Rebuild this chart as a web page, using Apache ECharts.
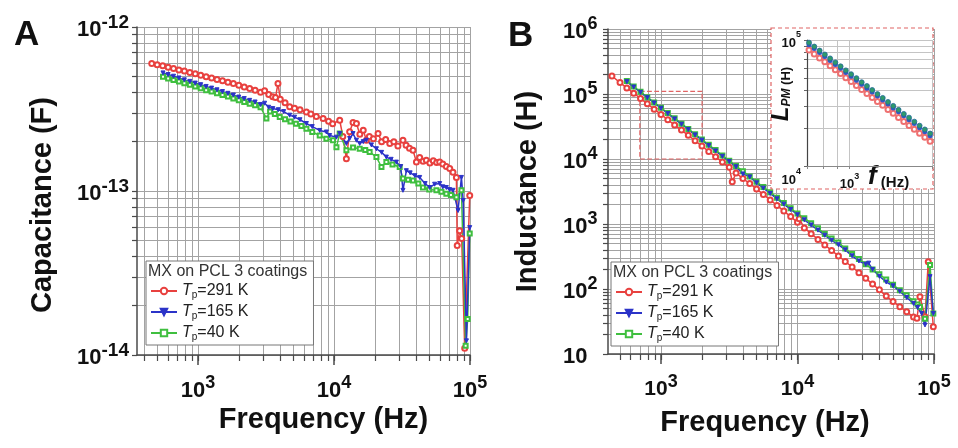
<!DOCTYPE html>
<html><head><meta charset="utf-8">
<script src="https://cdn.jsdelivr.net/npm/echarts@6.0.0/dist/echarts.min.js"></script>
<style>html,body{margin:0;padding:0;background:#fff}#c{width:958px;height:448px}</style>
</head><body><div id="c"></div>
<script>
// ---------- DATA (frequency in Hz, capacitance in pF = 1e-12 F, inductance in H) ----------
const capRed291 = [[457,0.600],[501,0.589],[550,0.581],[603,0.568],[661,0.558],[724,0.547],[794,0.540],[871,0.527],[955,0.519],[1047,0.508],[1148,0.497],[1259,0.489],[1380,0.479],[1514,0.470],[1660,0.460],[1820,0.452],[1995,0.442],[2188,0.431],[2399,0.421],[2630,0.411],[2884,0.400],[3090,0.409],[3311,0.387],[3548,0.376],[3715,0.372],[3873,0.453],[4027,0.363],[4365,0.345],[4721,0.326],[5129,0.320],[5623,0.313],[6266,0.303],[6761,0.295],[7413,0.285],[8318,0.277],[9120,0.266],[9772,0.257],[11015,0.270],[11614,0.215],[12331,0.157],[13032,0.230],[13804,0.262],[14622,0.258],[15488,0.222],[16406,0.235],[17298,0.204],[18197,0.215],[19498,0.208],[21086,0.224],[22387,0.200],[23988,0.206],[25704,0.195],[27542,0.200],[29512,0.188],[32137,0.204],[33884,0.190],[35892,0.182],[38107,0.177],[40365,0.150],[42658,0.160],[45186,0.152],[47753,0.154],[50699,0.148],[53703,0.153],[56885,0.149],[59841,0.150],[63096,0.146],[66988,0.141],[70958,0.137],[74989,0.130],[79433,0.121],[80538,0.0465],[83946,0.0573],[86896,0.0513],[91411,0.0110],[99540,0.0938]];
const capBlue165 = [[553,0.525],[603,0.513],[661,0.501],[724,0.489],[794,0.476],[871,0.466],[955,0.455],[1047,0.445],[1148,0.434],[1259,0.424],[1380,0.414],[1514,0.404],[1660,0.394],[1820,0.385],[1995,0.374],[2188,0.366],[2399,0.357],[2630,0.349],[2884,0.337],[3090,0.343],[3311,0.324],[3548,0.318],[3890,0.313],[4266,0.305],[4721,0.290],[5129,0.282],[5623,0.272],[6266,0.258],[6918,0.247],[7852,0.234],[8790,0.229],[9290,0.218],[10423,0.213],[11015,0.224],[12331,0.195],[13032,0.209],[13804,0.224],[14622,0.204],[15453,0.195],[16406,0.200],[17298,0.204],[18836,0.191],[20512,0.181],[22387,0.172],[24266,0.161],[26303,0.156],[28774,0.150],[30903,0.141],[32137,0.101],[34041,0.133],[36308,0.129],[39355,0.124],[42658,0.121],[46774,0.111],[50582,0.105],[54954,0.110],[59841,0.111],[63096,0.106],[66988,0.105],[70795,0.102],[74989,0.101],[81658,0.076],[86497,0.121],[89125,0.0875],[94189,0.0122],[99540,0.0598]];
const capGreen40 = [[553,0.497],[603,0.486],[661,0.475],[724,0.465],[794,0.454],[871,0.444],[955,0.433],[1047,0.423],[1148,0.412],[1259,0.404],[1380,0.394],[1514,0.385],[1660,0.377],[1820,0.367],[1995,0.358],[2188,0.349],[2399,0.340],[2630,0.333],[2884,0.324],[3184,0.277],[3388,0.305],[3673,0.295],[3990,0.283],[4365,0.274],[4786,0.265],[5248,0.257],[5754,0.249],[6266,0.240],[6918,0.229],[7852,0.218],[8790,0.208],[9840,0.204],[10423,0.185],[11015,0.224],[12331,0.177],[13804,0.184],[15453,0.181],[16982,0.178],[18281,0.173],[20512,0.161],[22336,0.140],[24266,0.150],[26915,0.145],[30409,0.140],[32137,0.119],[35075,0.117],[38107,0.116],[41687,0.111],[45082,0.105],[50119,0.102],[56624,0.101],[61660,0.0989],[66988,0.0962],[72444,0.0944],[79433,0.0917],[86497,0.101],[92897,0.0114],[96161,0.0166],[99540,0.0550]];

const indRed291 = [[437,189000],[501,150000],[562,124000],[631,103000],[708,85300],[794,70600],[891,58500],[1000,48500],[1122,40200],[1259,33300],[1413,27900],[1585,23100],[1778,19100],[1995,15800],[2239,13100],[2512,10800],[2818,8970],[3162,7450],[3327,4470],[3548,6100],[3981,4990],[4467,4200],[5012,3450],[5623,2850],[6310,2340],[7079,1930],[7943,1580],[8913,1300],[10000,1060],[10300,1200],[11220,870],[12589,710],[14125,580],[15849,475],[17783,392],[19953,322],[22387,265],[25119,218],[28184,178],[31623,146],[35481,119],[39811,97],[44668,77.8],[50119,64.1],[56234,53.5],[63096,44.6],[70795,37.2],[74989,35.5],[78886,76],[85901,37.5],[90782,263],[98855,26.3]];
const indBlue165 = [[562,155000],[631,128000],[708,106000],[794,87900],[891,72800],[1000,60300],[1122,50000],[1259,41400],[1413,34300],[1585,28400],[1778,23500],[1995,19500],[2239,16100],[2512,13300],[2818,11000],[3162,9160],[3548,7590],[3981,5900],[4467,5300],[5012,4300],[5623,3560],[6310,2950],[7079,2440],[7943,2020],[8913,1670],[10000,1390],[11220,1160],[12589,966],[14125,805],[15849,671],[17783,560],[19953,480],[22387,400],[25119,324],[28184,270],[31623,240],[33200,250],[35481,200],[39811,157],[44668,128],[50119,112],[56234,92],[63096,74],[70795,60],[75858,52],[81283,42],[85901,28],[93541,155],[98855,42]];
const indGreen40 = [[562,158000],[631,130000],[708,108000],[794,89000],[891,74000],[1000,61500],[1122,51000],[1259,42200],[1413,35000],[1585,29000],[1778,24000],[1995,19900],[2239,16500],[2512,13700],[2818,11300],[3162,9400],[3548,7800],[3981,6500],[4467,5400],[5012,4450],[5623,3700],[6310,3070],[7079,2540],[7943,2100],[8913,1740],[10000,1450],[11220,1230],[12589,1030],[14125,860],[15849,700],[17783,600],[19953,520],[22387,420],[25119,345],[28184,290],[31623,240],[35481,200],[39811,168],[44668,140],[50119,116],[56234,96],[63096,80],[70795,65],[75858,58],[78886,53],[85901,35],[93541,234],[98855,42]];

const insetFreq = [712,744,778,813,850,888,928,970,1014,1060,1108,1158,1210,1265,1322,1382,1444,1510,1578,1649,1724,1802,1883,1968];
const insetGreen40 = [95300,88700,82400,76700,71400,66400,61800,57400,53500,49800,46200,43100,40100,37200,34700,32200,30000,27900,25900,24200,22500,20900,19500,18100];
const insetBlue165 = [91800,85500,79400,74000,68900,64000,59600,55300,51500,48000,44600,41500,38600,35900,33400,31000,28900,26900,25000,23300,21700,20100,18700,17400];
const insetRed291 = [83400,77600,72100,67100,62500,58100,54100,50200,46800,43500,40500,37600,35000,32500,30300,28100,26200,24300,22600,21000,19600,18200,16900,15700];

// zoom box drawn in panel B (Hz, H)
const zoomBox = [[700, 110000], [2000, 10000]];

// ticks and tick labels
const ticksAx = [400,500,600,700,800,900,1000,2000,3000,4000,5000,6000,7000,8000,9000,10000,20000,30000,40000,50000,60000,70000,80000,90000,100000];
const majorX = [1000,10000,100000];
const ticksAy = [0.01,0.02,0.03,0.04,0.05,0.06,0.07,0.08,0.09,0.1,0.2,0.3,0.4,0.5,0.6,0.7,0.8,0.9,1];
const labelsAy = [0.01,0.1,1];
const ticksBx = [500,600,700,800,900,1000,2000,3000,4000,5000,6000,7000,8000,9000,10000,20000,30000,40000,50000,60000,70000,80000,90000,100000];
const ticksBy = [10,20,30,40,50,60,70,80,90,100,200,300,400,500,600,700,800,900,1000,2000,3000,4000,5000,6000,7000,8000,9000,10000,20000,30000,40000,50000,60000,70000,80000,90000,100000,200000,300000,400000,500000,600000,700000,800000,900000,1000000];
const labelsBy = [10,100,1000,10000,100000,1000000];
const ticksInx = [700,800,900,1000,2000];
const labelsInx = [1000];
const ticksIny = [10000,20000,30000,40000,50000,60000,70000,80000,90000,100000];
const labelsIny = [10000,100000];

const legendNames = ['Tp=291 K','Tp=165 K','Tp=40 K'];
const colRed = '#e8413f', colBlue = '#2b33c8', colGreen = '#3fbf3f';

// ---------- CHART ----------
const FONT = '"Liberation Sans", Arial, Helvetica, sans-serif';
function rich(size, sup) {
  return {
    b: {fontFamily: FONT, fontWeight: 'bold', fontSize: size, lineHeight: size + 6, verticalAlign: 'bottom', color: '#111'},
    p: {fontFamily: FONT, fontWeight: 'bold', fontSize: sup, lineHeight: sup, verticalAlign: 'top', color: '#111'}
  };
}
function pow10(v, shift, plainTen) {
  const e = Math.round(Math.log10(v)) + shift;
  if (plainTen && e === 1) return '{b|10}';
  return '{b|10}{p|' + e + '}';
}
const gridLine = {show: true, lineStyle: {color: '#a3a3a3', width: 1}};
const axisLineStyle = {show: true, lineStyle: {color: '#4a4a4a', width: 1.5}};

function mainX(grid, min, ticks, size) {
  return {
    type: 'log', gridIndex: grid, min: min, max: 100000, position: 'bottom',
    axisLine: axisLineStyle,
    axisTick: {show: true, customValues: ticks, length: 6, lineStyle: {color: '#4a4a4a', width: 1.2}},
    splitLine: gridLine,
    axisLabel: {customValues: majorX, margin: 19, formatter: v => pow10(v, 0), rich: rich(size, 18)},
    name: 'Frequency (Hz)', nameLocation: 'middle', nameMoveOverlap: false,
    nameTextStyle: {fontFamily: FONT, fontWeight: 'bold', fontSize: 29, color: '#111'}
  };
}
function majorTickX(grid, min) {
  return {
    type: 'log', gridIndex: grid, min: min, max: 100000, position: 'bottom',
    axisLine: {show: false}, splitLine: {show: false}, axisLabel: {show: false},
    axisTick: {show: true, customValues: majorX, length: 10, lineStyle: {color: '#4a4a4a', width: 1.5}}
  };
}

const lineSeries = (name, data, color, symbol, xi, yi, extra) => Object.assign({
  name: name, type: 'line', data: data, xAxisIndex: xi, yAxisIndex: yi,
  symbol: symbol, symbolSize: 5, showSymbol: true,
  lineStyle: {color: color, width: 1.5}, itemStyle: {color: color, borderColor: color, borderWidth: 1},
  emphasis: {disabled: true}, animation: false
}, extra || {});

const legendRich = {
  t: {fontFamily: FONT, fontSize: 16, fontStyle: 'italic', color: '#222', lineHeight: 18},
  s: {fontFamily: FONT, fontSize: 10, color: '#222', lineHeight: 10, verticalAlign: 'bottom'},
  n: {fontFamily: FONT, fontSize: 16, color: '#222', lineHeight: 18}
};
function legendBox(left, top) {
  return {
    data: legendNames, orient: 'vertical', left: left, top: top,
    padding: [22, 65, 3, 4], itemWidth: 26, itemHeight: 8, itemGap: 4,
    backgroundColor: '#fff', borderColor: '#777', borderWidth: 1, borderRadius: 0,
    selectedMode: false,
    formatter: n => '{t|T}{s|p}{n|' + n.substring(2) + '}',
    textStyle: {rich: legendRich}
  };
}

const option = {
  backgroundColor: '#fff',
  animation: false,
  title: [
    {text: 'A', left: 14, top: 18, padding: 0, textStyle: {fontFamily: FONT, fontWeight: 'bold', fontSize: 35, color: '#111'}},
    {text: 'B', left: 508, top: 19, padding: 0, textStyle: {fontFamily: FONT, fontWeight: 'bold', fontSize: 35, color: '#111'}},
    {text: 'MX on PCL 3 coatings', left: 148, top: 264, padding: 0, z: 8, textStyle: {fontFamily: FONT, fontWeight: 'normal', fontSize: 16, color: '#333'}},
    {text: 'MX on PCL 3 coatings', left: 613, top: 265, padding: 0, z: 8, textStyle: {fontFamily: FONT, fontWeight: 'normal', fontSize: 16, color: '#333'}}
  ],
  legend: [legendBox(146, 261), legendBox(611, 262)],
  graphic: {elements: [
    {type: 'rect', z: 5, shape: {x: 771, y: 28, width: 162, height: 161},
     style: {fill: '#fff', stroke: '#e06464', lineWidth: 1.2, lineDash: [4, 3]}}
  ]},
  grid: [
    {left: 137, top: 27, width: 333, height: 328},
    {left: 608, top: 29, width: 326, height: 325},
    {left: 807, top: 40, width: 125, height: 126, z: 6}
  ],
  xAxis: [
    Object.assign(mainX(0, 356, ticksAx, 22), {nameGap: 50, nameTextStyle: {fontFamily: FONT, fontWeight: 'bold', fontSize: 29, color: '#111', padding: [0, 0, 0, 40]}}),
    majorTickX(0, 356),
    Object.assign(mainX(1, 409, ticksBx, 21), {nameGap: 54, nameTextStyle: {fontFamily: FONT, fontWeight: 'bold', fontSize: 29, color: '#111', padding: [0, 12, 0, 0]}}),
    majorTickX(1, 409),
    {
      type: 'log', gridIndex: 2, min: 700, max: 2000, z: 6,
      axisLine: {show: true, lineStyle: {color: '#888', width: 1}},
      axisTick: {show: true, customValues: ticksInx, length: 3, lineStyle: {color: '#888'}},
      splitLine: {show: true, lineStyle: {color: '#c4c4c4', width: 1}},
      axisLabel: {customValues: labelsInx, margin: 6, formatter: v => pow10(v, 0), rich: rich(13, 9)},
      name: '{f|f}{h| (Hz)}', nameLocation: 'end', nameGap: -64, nameMoveOverlap: false,
      nameTextStyle: {verticalAlign: 'top', padding: [2, 0, 0, 0], rich: {
        f: {fontFamily: FONT, fontWeight: 'bold', fontStyle: 'italic', fontSize: 26, lineHeight: 22, verticalAlign: 'bottom', color: '#111'},
        h: {fontFamily: FONT, fontWeight: 'bold', fontSize: 15, lineHeight: 16, verticalAlign: 'bottom', color: '#111'}
      }}
    }
  ],
  yAxis: [
    {
      type: 'log', gridIndex: 0, min: 0.01, max: 1,
      axisLine: axisLineStyle,
      axisTick: {show: true, customValues: ticksAy, length: 5, lineStyle: {color: '#4a4a4a', width: 1.2}},
      splitLine: gridLine,
      axisLabel: {customValues: labelsAy, margin: 8, formatter: v => pow10(v, -12), rich: rich(22, 19)},
      name: 'Capacitance (F)', nameLocation: 'middle', nameGap: 80, nameMoveOverlap: false,
      nameTextStyle: {fontFamily: FONT, fontWeight: 'bold', fontSize: 29, color: '#111', padding: [0, 28, 0, 0]}
    },
    {
      type: 'log', gridIndex: 1, min: 10, max: 1000000,
      axisLine: axisLineStyle,
      axisTick: {show: true, customValues: ticksBy, length: 5, lineStyle: {color: '#4a4a4a', width: 1.2}},
      splitLine: gridLine,
      axisLabel: {customValues: labelsBy, margin: 45, align: 'left', formatter: v => pow10(v, 0, true), rich: rich(22, 18)},
      name: 'Inductance (H)', nameLocation: 'middle', nameGap: 66, nameMoveOverlap: false,
      nameTextStyle: {fontFamily: FONT, fontWeight: 'bold', fontSize: 29, color: '#111'}
    },
    {
      type: 'log', gridIndex: 2, min: 10000, max: 100000, z: 6,
      axisLine: {show: true, lineStyle: {color: '#444', width: 1.2}},
      axisTick: {show: true, customValues: ticksIny, length: 3, lineStyle: {color: '#666'}},
      splitLine: {show: true, lineStyle: {color: '#c4c4c4', width: 1}},
      axisLabel: {customValues: labelsIny, margin: 6,
        formatter: v => v < 50000 ? '{e| }\n{b|10}{p|4}' : '{b|10}{p|5}',
        rich: Object.assign(rich(13, 9), {e: {fontSize: 8, lineHeight: 22}})},
      name: '{L|L}{s|PM}{h| (H)}', nameLocation: 'middle', nameGap: 14, nameMoveOverlap: false,
      nameTextStyle: {padding: [0, 0, 0, 18], rich: {
        L: {fontFamily: FONT, fontWeight: 'bold', fontStyle: 'italic', fontSize: 24, lineHeight: 24, verticalAlign: 'bottom', color: '#111'},
        s: {fontFamily: FONT, fontWeight: 'bold', fontStyle: 'italic', fontSize: 12, lineHeight: 12, verticalAlign: 'bottom', color: '#111'},
        h: {fontFamily: FONT, fontWeight: 'bold', fontSize: 13, lineHeight: 20, verticalAlign: 'bottom', color: '#111'}
      }}
    }
  ],
  series: [
    lineSeries('Tp=291 K', capRed291, colRed, 'emptyCircle', 0, 0),
    lineSeries('Tp=40 K', capGreen40, colGreen, 'emptyRect', 0, 0, {symbolSize: 4}),
    lineSeries('Tp=165 K', capBlue165, colBlue, 'triangle', 0, 0, {symbolSize: 4, symbolRotate: 180}),
    lineSeries('Tp=291 K', indRed291, colRed, 'emptyCircle', 2, 1, {
      markArea: {silent: true, itemStyle: {color: 'rgba(0,0,0,0)', borderColor: '#e06464', borderWidth: 1.2, borderType: 'dashed'},
        data: [[{xAxis: zoomBox[0][0], yAxis: zoomBox[0][1]}, {xAxis: zoomBox[1][0], yAxis: zoomBox[1][1]}]]}
    }),
    lineSeries('Tp=40 K', indGreen40, colGreen, 'emptyRect', 2, 1, {symbolSize: 4}),
    lineSeries('Tp=165 K', indBlue165, colBlue, 'triangle', 2, 1, {symbolSize: 4, symbolRotate: 180}),
    {name: 'inset 291', type: 'line', xAxisIndex: 4, yAxisIndex: 2, z: 7, data: insetFreq.map((f, i) => [f, insetRed291[i]]),
     symbol: 'emptyCircle', symbolSize: 5, lineStyle: {width: 0, opacity: 0}, itemStyle: {color: '#ee7070', borderWidth: 1}},
    {name: 'inset 165', type: 'line', xAxisIndex: 4, yAxisIndex: 2, z: 7, data: insetFreq.map((f, i) => [f, insetBlue165[i]]),
     symbol: 'circle', symbolSize: 5, lineStyle: {width: 0, opacity: 0}, itemStyle: {color: '#3356c8'}},
    {name: 'inset 40', type: 'line', xAxisIndex: 4, yAxisIndex: 2, z: 7, data: insetFreq.map((f, i) => [f, insetGreen40[i]]),
     symbol: 'circle', symbolSize: 5, lineStyle: {width: 0, opacity: 0}, itemStyle: {color: '#2f9a6a', borderColor: '#22689a', borderWidth: 0.8}}
  ]
};
const chart = echarts.init(document.getElementById('c'), null, {renderer: 'canvas'});
chart.setOption(option);
</script>
</body></html>
